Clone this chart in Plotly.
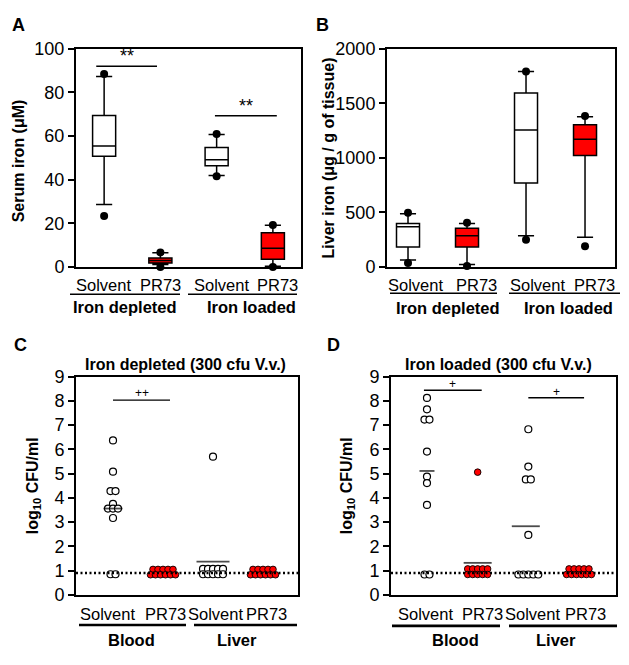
import plotly.graph_objects as go

W, H = 629, 665
def px(x): return x / W
def py(y): return 1 - y / H

FONT = "Arial, 'Liberation Sans', sans-serif"
RED = "#FF0000"

# ---------------- DATA ----------------
treatments = ["Solvent", "PR73", "Solvent", "PR73"]
ab_groups = ["Iron depleted", "Iron loaded"]
cd_groups = ["Blood", "Liver"]

# Panel A: serum iron (uM) box statistics
a_q1 = [50.8, 1.8, 46.4, 3.6]
a_median = [55.5, 3.0, 49.2, 8.6]
a_q3 = [69.4, 4.1, 54.8, 15.7]
a_lower = [28.7, 1.2, 41.9, 0.4]
a_upper = [87.3, 6.6, 60.7, 19.2]
a_out_idx = [0, 0, 1, 1, 2, 2, 3, 3]
a_out_val = [88.4, 23.4, 6.7, 0.0, 61.0, 41.6, 19.3, 0.0]
a_sig_text = ["**", "**"]
a_sig_y = [92, 69.3]

# Panel B: liver iron (ug / g of tissue) box statistics
b_q1 = [184, 184, 770, 1022]
b_median = [370, 287, 1256, 1170]
b_q3 = [400, 356, 1594, 1304]
b_lower = [65, 24, 287, 273]
b_upper = [489, 400, 1793, 1378]
b_out_idx = [0, 0, 1, 1, 2, 2, 3, 3]
b_out_val = [498, 36, 406, 9, 1793, 249, 1384, 190]

# Panel C: iron depleted, log10 CFU/ml
c_blood_solvent = [6.37, 5.08, 4.28, 4.28, 3.75, 3.56, 3.56, 3.56, 3.17, 0.85, 0.85]
c_blood_pr73 = [1.05] * 5 + [0.83] * 6
c_liver_solvent = [5.70] + [1.07] * 5 + [0.85] * 5
c_liver_pr73 = [1.05] * 5 + [0.83] * 6
c_median_idx = [0, 2]
c_median_val = [3.56, 1.37]
c_sig_text = ["++"]
c_sig_y = [8.03]

# Panel D: iron loaded, log10 CFU/ml
d_blood_solvent = [8.12, 7.65, 7.23, 7.23, 5.91, 4.88, 4.61, 3.71, 0.84, 0.84]
d_blood_pr73 = [5.06] + [1.07] * 5 + [0.84] * 5
d_liver_solvent = [6.83, 5.29, 4.76, 4.76, 2.47] + [0.84] * 5
d_liver_pr73 = [1.07] * 5 + [0.84] * 6
d_median_idx = [0, 1, 2]
d_median_val = [5.11, 1.32, 2.83]
d_sig_text = ["+", "+"]
d_sig_y = [8.44, 8.13]

detection_limit = 0.9

# ---------------- MARKS ----------------
fig = go.Figure()

def add_boxes(q1, med, q3, lo, up, out_idx, out_val, xa, ya, bw):
    for i in range(len(q1)):
        fig.add_trace(go.Box(
            x=[i], q1=[q1[i]], median=[med[i]], q3=[q3[i]],
            lowerfence=[lo[i]], upperfence=[up[i]],
            fillcolor="white" if i % 2 == 0 else RED,
            line=dict(color="black", width=1.5),
            width=bw, whiskerwidth=0.7, boxpoints=False,
            xaxis=xa, yaxis=ya, showlegend=False, hoverinfo="skip"))
    fig.add_trace(go.Scatter(
        x=out_idx, y=out_val, mode="markers",
        marker=dict(color="black", size=8),
        cliponaxis=False, xaxis=xa, yaxis=ya, showlegend=False))

add_boxes(a_q1, a_median, a_q3, a_lower, a_upper, a_out_idx, a_out_val, "x", "y", 0.41)
add_boxes(b_q1, b_median, b_q3, b_lower, b_upper, b_out_idx, b_out_val, "x2", "y2", 0.39)

def swarm(idx, vals, spacing):
    xs = []
    seen = {}
    counts = {}
    for v in vals:
        counts[v] = counts.get(v, 0) + 1
    for v in vals:
        k = seen.get(v, 0)
        seen[v] = k + 1
        n = counts[v]
        xs.append(idx + (k - (n - 1) / 2) * spacing)
    return xs

def add_dots(groups, xa, ya, spacing):
    for i, vals in enumerate(groups):
        solvent = (i % 2 == 0)
        fig.add_trace(go.Scatter(
            x=swarm(i, vals, spacing), y=vals, mode="markers",
            marker=dict(color="white" if solvent else RED,
                        size=7 if solvent else 6.6,
                        line=dict(color="black", width=1.2 if solvent else 0.9)),
            cliponaxis=False, xaxis=xa, yaxis=ya, showlegend=False))

add_dots([c_blood_solvent, c_blood_pr73, c_liver_solvent, c_liver_pr73], "x3", "y3", 0.1)
add_dots([d_blood_solvent, d_blood_pr73, d_liver_solvent, d_liver_pr73], "x4", "y4", 0.098)

# median bars
c_bar_len = [19, 33]
d_bar_len = [15, 28, 28]
fig.add_trace(go.Scatter(x=c_median_idx, y=c_median_val, mode="markers",
                         marker=dict(symbol="line-ew", size=[l / 1.4 for l in c_bar_len],
                                     line=dict(color="black", width=1.8)),
                         xaxis="x3", yaxis="y3", showlegend=False))
fig.add_trace(go.Scatter(x=[i - 0.05 if i == 2 else i for i in d_median_idx], y=d_median_val, mode="markers",
                         marker=dict(symbol="line-ew", size=[l / 1.4 for l in d_bar_len],
                                     line=dict(color="black", width=1.8)),
                         xaxis="x4", yaxis="y4", showlegend=False))

# significance lines
sig_specs = [
    ("x", "y", -0.14, 0.94, a_sig_y[0], a_sig_text[0], 18, 10),
    ("x", "y", 1.97, 3.07, a_sig_y[1], a_sig_text[1], 18, 10),
    ("x3", "y3", 0.0, 1.14, c_sig_y[0], c_sig_text[0], 12, 7),
    ("x4", "y4", -0.06, 1.08, d_sig_y[0], d_sig_text[0], 12, 6),
    ("x4", "y4", 2.0, 3.1, d_sig_y[1], d_sig_text[1], 12, 6),
]
annotations = []
for xa, ya, x0, x1, yv, txt_, fs, ysh in sig_specs:
    fig.add_trace(go.Scatter(x=[x0, x1], y=[yv, yv], mode="lines",
                             line=dict(color="black", width=1.4),
                             xaxis=xa, yaxis=ya, showlegend=False))
    annotations.append(dict(x=(x0 + x1) / 2, y=yv, xref=xa, yref=ya, text=txt_,
                            showarrow=False, yshift=ysh,
                            font=dict(size=fs, color="black", family=FONT)))

# detection limit dotted lines
for xa, ya in (("x3", "y3"), ("x4", "y4")):
    fig.add_shape(type="line", xref=f"{xa} domain", yref=ya, x0=0, x1=1,
                  y0=detection_limit, y1=detection_limit,
                  line=dict(color="black", width=2.5, dash="2px,2.5px"))

# ---------------- TEXT ----------------
def txt(x, y, s, size, bold=False, angle=0):
    annotations.append(dict(x=px(x), y=py(y), xref="paper", yref="paper",
                            text=f"<b>{s}</b>" if bold else s, showarrow=False,
                            textangle=angle, xanchor="center", yanchor="middle",
                            font=dict(size=size, color="black", family=FONT)))

# panel letters
txt(18, 15, "A", 18, True)
txt(322, 15, "B", 18, True)
txt(20, 345, "C", 18, True)
txt(333, 345, "D", 18, True)

# axis titles
txt(18, 156, "Serum iron (μM)", 16, True, -90)
txt(328, 153, "Liver iron (μg / g of tissue)", 16, True, -90)
txt(33, 491, "log<sub>10</sub> CFU/ml", 16, True, -90)
txt(347, 491, "log<sub>10</sub> CFU/ml", 16, True, -90)

# panel titles
txt(185, 365, "Iron depleted (300 cfu V.v.)", 16, True)
txt(498, 365, "Iron loaded (300 cfu V.v.)", 16, True)

# category labels
lab_pos = {
    "A": ([104, 160, 221, 277], 284, [125, 251], 306),
    "B": ([416, 476, 537, 594], 284, [448, 568], 307),
    "C": ([107, 165, 215, 266], 623, [131, 237], 650),
    "D": ([425, 483, 532, 585], 623, [455, 556], 650),
}
for key, (xs, yl, gx, yg) in lab_pos.items():
    groups = ab_groups if key in "AB" else cd_groups
    for x, s in zip(xs, treatments):
        txt(x, yl, s, 16.5)
    for x, s in zip(gx, groups):
        txt(x, yg, s, 16.5, True)

# group underlines
under = [
    (70, 180, 293, 1.5), (188, 297, 293, 1.5),
    (390, 497, 292, 1.5), (509, 620, 292, 1.5),
    (79, 186, 634, 2.6), (194, 297, 634, 2.6),
    (392, 500, 635, 2.6), (509, 617, 635, 2.6),
]
for x0, x1, y, w in under:
    fig.add_shape(type="line", xref="paper", yref="paper",
                  x0=px(x0), x1=px(x1), y0=py(y), y1=py(y),
                  line=dict(color="black", width=w))

# ---------------- AXES ----------------
def xax(dom, rng, anchor):
    return dict(domain=[px(dom[0]), px(dom[1])], range=rng, anchor=anchor,
                showticklabels=False, ticks="", showline=True, mirror=True,
                linewidth=2, linecolor="black", showgrid=False, zeroline=False)

def yax(dom, rng, dtick, anchor):
    return dict(domain=[py(dom[1]), py(dom[0])], range=rng, dtick=dtick, anchor=anchor,
                ticks="outside", ticklen=6, tickwidth=2, tickcolor="black",
                showline=True, mirror=True, linewidth=2, linecolor="black",
                showgrid=False, zeroline=False,
                tickfont=dict(size=18, color="black", family=FONT))

fig.update_layout(
    width=W, height=H, margin=dict(l=0, r=0, t=0, b=0),
    paper_bgcolor="white", plot_bgcolor="white", showlegend=False,
    font=dict(family=FONT, color="black"),
    xaxis=xax((76, 301), [-0.5, 3.5], "y"),
    yaxis=yax((40, 265), [0, 100], 20, "x"),
    xaxis2=xax((387, 615), [-0.356, 3.508], "y2"),
    yaxis2=yax((40, 265), [0, 2000], 500, "x2"),
    xaxis3=xax((76, 298), [-0.74, 3.70], "y3"),
    yaxis3=yax((378, 603), [0, 9], 1, "x3"),
    xaxis4=xax((391, 616), [-0.71, 3.73], "y4"),
    yaxis4=yax((378, 603), [0, 9], 1, "x4"),
    annotations=annotations,
)

fig.write_html(
    "out.html",
    config={"displayModeBar": False, "staticPlot": True},
    post_script="document.body.style.margin='0';document.body.style.padding='0';"
                "document.body.style.overflow='hidden';",
)
